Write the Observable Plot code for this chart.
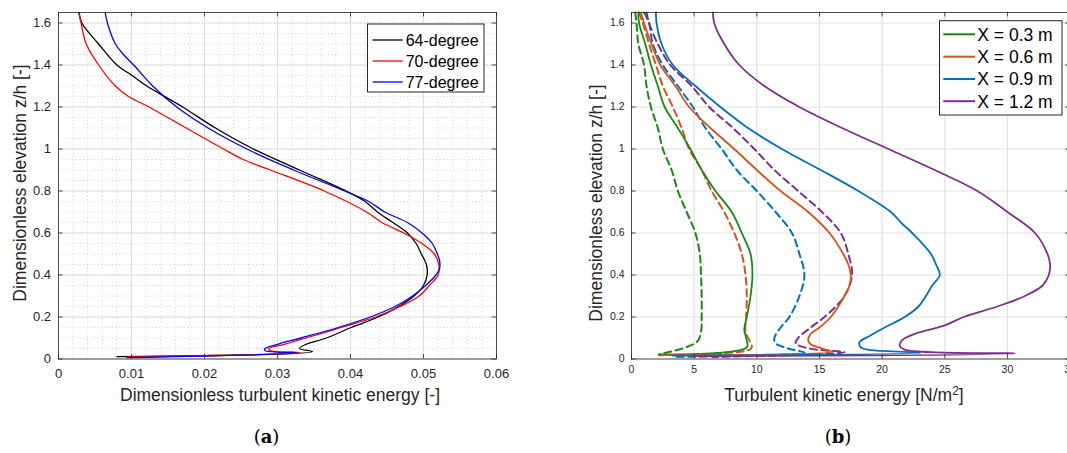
<!DOCTYPE html>
<html><head><meta charset="utf-8">
<script src="https://cdn.jsdelivr.net/npm/d3@7"></script>
<script src="https://cdn.jsdelivr.net/npm/@observablehq/plot@0.6"></script>
<style>
html,body{margin:0;padding:0;background:#fff;overflow:hidden;}
body{width:1067px;height:453px;position:relative;font-family:"Liberation Sans",Arial,sans-serif;}
.panel{position:absolute;top:0;}
#overlay{position:absolute;left:0;top:0;pointer-events:none;}
</style></head><body>
<div id="pa" class="panel" style="left:0;width:530px"></div>
<div id="pb" class="panel" style="left:531px;width:545px"></div>
<svg id="overlay" width="1067" height="453"></svg>
<script>
// ---------- DATA ----------
const zTicks = [0, 0.2, 0.4, 0.6, 0.8, 1, 1.2, 1.4, 1.6];
const xTicksA = [0, 0.01, 0.02, 0.03, 0.04, 0.05, 0.06];
const xTicksB = [0, 5, 10, 15, 20, 25, 30, 35];

const namesA = ["64-degree", "70-degree", "77-degree"];
const colorsA = ["#000000", "#ff0000", "#0000ff"];
// [dimensionless TKE, z/h]
const deg64 = [[0.0028,1.65],[0.0032,1.6],[0.0055,1.5],[0.0080,1.4],[0.0101,1.35],[0.0121,1.3],[0.0170,1.2],[0.0215,1.1],[0.0267,1.0],[0.0330,0.9],[0.0394,0.8],[0.0420,0.75],[0.0437,0.7],[0.0458,0.65],[0.0478,0.6],[0.0490,0.55],[0.0497,0.5],[0.0504,0.45],[0.0505,0.4],[0.0500,0.35],[0.0487,0.3],[0.0461,0.24],[0.0438,0.2],[0.0401,0.15],[0.0367,0.1],[0.0339,0.07],[0.0330,0.05],[0.0348,0.035],[0.0080,0.011]];
const deg70 = [[0.0028,1.65],[0.0031,1.6],[0.0038,1.5],[0.0055,1.4],[0.0078,1.3],[0.0096,1.25],[0.0124,1.2],[0.0175,1.1],[0.0226,1.0],[0.0253,0.95],[0.0290,0.9],[0.0364,0.8],[0.0422,0.7],[0.0443,0.65],[0.0473,0.6],[0.0498,0.55],[0.0515,0.5],[0.0521,0.45],[0.0520,0.4],[0.0508,0.35],[0.0494,0.3],[0.0468,0.25],[0.0434,0.2],[0.0387,0.15],[0.0339,0.1],[0.0309,0.07],[0.0288,0.05],[0.0290,0.04],[0.0330,0.03],[0.0094,0.01]];
const deg77 = [[0.0064,1.65],[0.0067,1.6],[0.0078,1.5],[0.0089,1.45],[0.0103,1.4],[0.0129,1.3],[0.0162,1.2],[0.0205,1.1],[0.0258,1.0],[0.0322,0.9],[0.0392,0.8],[0.0425,0.75],[0.0447,0.7],[0.0478,0.65],[0.0498,0.6],[0.0512,0.55],[0.0519,0.5],[0.0522,0.47],[0.0522,0.43],[0.0517,0.4],[0.0503,0.35],[0.0485,0.3],[0.0461,0.25],[0.0427,0.2],[0.0383,0.15],[0.0332,0.1],[0.0300,0.07],[0.0283,0.05],[0.0283,0.04],[0.0325,0.03],[0.0094,0.007]];

const namesB = ["X = 0.3 m", "X = 0.6 m", "X = 0.9 m", "X = 1.2 m"];
const colorsB = ["#148c14", "#d95319", "#0072bd", "#7e2f8e"];
// [TKE N/m2, z/h] solid and dashed profiles
const x03Solid = [[0.55,1.65],[0.6,1.6],[1.1,1.5],[1.55,1.4],[2.1,1.3],[2.65,1.2],[3.7,1.1],[4.7,1.0],[5.6,0.9],[6.7,0.8],[8.0,0.7],[8.8,0.6],[9.5,0.5],[9.65,0.4],[9.5,0.3],[9.2,0.2],[9.0,0.14],[9.15,0.1],[9.2,0.055],[2.2,0.022]];
const x03Dash = [[0.3,1.65],[0.4,1.6],[0.55,1.5],[1.0,1.4],[1.2,1.3],[1.55,1.2],[2.1,1.1],[2.5,1.0],[3.2,0.9],[3.7,0.8],[4.4,0.7],[5.1,0.6],[5.45,0.5],[5.55,0.4],[5.6,0.3],[5.6,0.2],[5.55,0.13],[5.2,0.08],[2.2,0.022]];
const x06Solid = [[0.75,1.65],[1.0,1.6],[1.6,1.5],[2.3,1.4],[3.5,1.3],[4.6,1.2],[6.3,1.1],[8.2,1.0],[10.0,0.9],[11.9,0.8],[14.1,0.7],[15.8,0.6],[16.9,0.5],[17.3,0.45],[17.5,0.4],[17.4,0.35],[17.0,0.3],[16.5,0.25],[15.9,0.2],[15.0,0.15],[14.3,0.12],[14.1,0.09],[14.3,0.07],[15.2,0.05],[16.0,0.035],[2.5,0.018]];
const x06Dash = [[0.6,1.65],[0.9,1.6],[1.4,1.5],[1.95,1.4],[2.5,1.3],[3.3,1.2],[4.0,1.1],[4.6,1.0],[5.6,0.9],[6.4,0.8],[7.4,0.7],[8.2,0.6],[8.8,0.5],[9.1,0.4],[9.2,0.3],[9.15,0.2],[9.1,0.13],[9.6,0.056],[9.2,0.04],[2.2,0.018]];
const x09Solid = [[1.95,1.65],[2.0,1.6],[2.4,1.5],[3.3,1.4],[5.1,1.3],[7.1,1.2],[9.3,1.1],[12.0,1.0],[15.1,0.9],[18.1,0.8],[20.7,0.7],[21.5,0.65],[22.4,0.6],[23.9,0.5],[24.3,0.45],[24.6,0.4],[24.0,0.35],[23.5,0.3],[22.9,0.25],[21.8,0.2],[20.2,0.15],[19.0,0.11],[18.2,0.08],[18.3,0.055],[19.2,0.042],[23.1,0.03],[3.3,0.016]];
const x09Dash = [[1.0,1.65],[1.4,1.6],[1.7,1.5],[2.5,1.4],[3.7,1.3],[4.9,1.2],[5.9,1.1],[7.2,1.0],[8.4,0.9],[10.0,0.8],[11.5,0.7],[12.8,0.6],[13.4,0.5],[13.8,0.4],[13.4,0.3],[12.6,0.2],[11.9,0.15],[11.4,0.1],[11.5,0.075],[12.5,0.05],[13.8,0.03],[3.3,0.01]];
const x12Solid = [[6.5,1.65],[6.6,1.6],[7.4,1.5],[8.6,1.4],[10.6,1.3],[13.4,1.2],[16.8,1.1],[20.5,1.0],[24.2,0.9],[27.6,0.8],[30.0,0.7],[32.2,0.6],[33.2,0.5],[33.4,0.45],[33.3,0.4],[32.8,0.35],[31.4,0.3],[29.2,0.25],[26.5,0.2],[25.0,0.16],[22.6,0.12],[21.6,0.09],[21.4,0.065],[21.8,0.045],[30.6,0.026],[5.0,0.014]];
const x12Dash = [[1.2,1.65],[1.4,1.6],[2.1,1.5],[3.1,1.4],[4.8,1.3],[6.2,1.2],[8.1,1.1],[9.8,1.0],[11.4,0.9],[13.3,0.8],[15.2,0.7],[16.7,0.6],[17.3,0.5],[17.6,0.4],[17.0,0.3],[16.3,0.25],[15.4,0.2],[14.3,0.15],[13.3,0.1],[13.1,0.075],[14.2,0.05],[17.0,0.032],[6.5,0.01]];

const seriesA = [deg64, deg70, deg77];
const seriesBSolid = [x03Solid, x06Solid, x09Solid, x12Solid];
const seriesBDash = [x03Dash, x06Dash, x09Dash, x12Dash];

// ---------- LAYOUT ----------
const H = 410, MT = 12, MB = 51.5;
const plotH = H - MT - MB;
const AX = "#262626";
const font = '"Liberation Sans", Arial, sans-serif';
const CURVE = "catmull-rom";

function inwardTicks(xt, yt, w) {
  const L = 4.5;
  return [
    Plot.tickX(xt, {x: d => d, insetTop: plotH - L, stroke: AX, strokeWidth: 0.8}),
    Plot.tickX(xt, {x: d => d, insetBottom: plotH - L, stroke: AX, strokeWidth: 0.8}),
    Plot.tickY(yt, {y: d => d, insetRight: w - L, stroke: AX, strokeWidth: 0.8}),
    Plot.tickY(yt, {y: d => d, insetLeft: w - L, stroke: AX, strokeWidth: 0.8})
  ];
}

// Panel (a)
const WA = 530, MLA = 58, MRA = 34;
const minorXA = d3.ticks(0, 0.06, 30);
const minorY = d3.ticks(0, 1.65, 33);
const plotA = Plot.plot({
  width: WA, height: H, marginLeft: MLA, marginRight: MRA, marginTop: MT, marginBottom: MB,
  style: `max-width:none;background:transparent;overflow:visible;font-family:${font};`,
  x: {domain: [0, 0.06]},
  y: {domain: [0, 1.65]},
  marks: [
    Plot.ruleX(minorXA, {x: d => d, stroke: "#c4c4c4", strokeWidth: 0.8, strokeDasharray: "1,2.6"}),
    Plot.ruleY(minorY, {y: d => d, stroke: "#c4c4c4", strokeWidth: 0.8, strokeDasharray: "1,2.6"}),
    Plot.gridX(xTicksA, {stroke: "#dedede", strokeOpacity: 1, strokeWidth: 1}),
    Plot.gridY(zTicks, {stroke: "#dedede", strokeOpacity: 1, strokeWidth: 1}),
    ...seriesA.map((s, i) => Plot.line(s, {x: d => d[0], y: d => d[1], stroke: colorsA[i], strokeWidth: 1.3, curve: CURVE})),
    Plot.frame({stroke: AX, strokeWidth: 0.8}),
    ...inwardTicks(xTicksA, zTicks, WA - MLA - MRA),
    Plot.axisX(xTicksA, {tickSize: 0, tickPadding: 10, fontSize: 13, fill: AX, label: null, tickFormat: d => String(d)}),
    Plot.axisY(zTicks, {tickSize: 0, tickPadding: 7.5, fontSize: 13, fill: AX, label: null, tickFormat: d => String(d)})
  ]
});
document.getElementById("pa").appendChild(plotA);

// Panel (b)
const WB = 545, MLB = 100, MRB = 6.4;
const plotB = Plot.plot({
  width: WB, height: H, marginLeft: MLB, marginRight: MRB, marginTop: MT, marginBottom: MB,
  style: `max-width:none;background:transparent;overflow:visible;font-family:${font};`,
  x: {domain: [0, 35]},
  y: {domain: [0, 1.65]},
  marks: [
    Plot.gridX(xTicksB, {stroke: "#e2e2e2", strokeOpacity: 1, strokeWidth: 1.2}),
    Plot.gridY(zTicks, {stroke: "#e2e2e2", strokeOpacity: 1, strokeWidth: 1.2}),
    ...seriesBDash.map((s, i) => Plot.line(s, {x: d => d[0], y: d => d[1], stroke: colorsB[i], strokeWidth: 2, strokeDasharray: "7,4.5", curve: CURVE})),
    ...seriesBSolid.map((s, i) => Plot.line(s, {x: d => d[0], y: d => d[1], stroke: colorsB[i], strokeWidth: 1.8, curve: CURVE})),
    Plot.frame({stroke: AX, strokeWidth: 0.8}),
    ...inwardTicks(xTicksB, zTicks, WB - MLB - MRB),
    Plot.axisX(xTicksB, {tickSize: 0, tickPadding: 7, fontSize: 10.5, fill: AX, label: null, tickFormat: d => String(d)}),
    Plot.axisY(zTicks, {tickSize: 0, tickPadding: 7, fontSize: 10.5, fill: AX, label: null, tickFormat: d => String(d)})
  ]
});
document.getElementById("pb").appendChild(plotB);

// Axis titles
function addTitle(svg, x, y, rot, parts) {
  const t = d3.select(svg).append("text")
    .attr("transform", `translate(${x},${y}) rotate(${rot})`)
    .attr("text-anchor", "middle").attr("fill", AX)
    .style("font-family", font).style("font-size", "17.5px");
  parts.forEach(p => {
    const ts = t.append("tspan").text(p.t);
    if (p.sup) ts.attr("dy", -6).style("font-size", "12px");
    if (p.after) ts.attr("dy", 6);
  });
}
addTitle(plotA, 280, 401, 0, [{t: "Dimensionless turbulent kinetic energy [-]"}]);
addTitle(plotA, 25.5, 183, -90, [{t: "Dimensionless elevation z/h [-]"}]);
addTitle(plotB, 844 - 531, 401, 0, [{t: "Turbulent kinetic energy [N/m"}, {t: "2", sup: true}, {t: "]", after: true}]);
addTitle(plotB, 601.5 - 531, 203, -90, [{t: "Dimensionless elevation z/h [-]"}]);

// Legends and captions
const ov = d3.select("#overlay");
function legend(box, names, colors, sw, x0, x1, tx, rows, fs) {
  ov.append("rect").attr("x", box[0]).attr("y", box[1]).attr("width", box[2]).attr("height", box[3])
    .attr("fill", "#fff").attr("stroke", AX).attr("stroke-width", 1);
  names.forEach((n, i) => {
    ov.append("line").attr("x1", x0).attr("x2", x1).attr("y1", rows[i]).attr("y2", rows[i])
      .attr("stroke", colors[i]).attr("stroke-width", sw);
    ov.append("text").attr("x", tx).attr("y", rows[i]).attr("dy", "0.36em")
      .style("font-family", font).style("font-size", fs + "px").attr("fill", "#000").text(n);
  });
}
legend([367.5, 24, 116.5, 68], namesA, colorsA, 1.3, 372.7, 402.7, 405.7, [40, 61, 82], 16);
legend([939.5, 20.7, 122.5, 94.3], namesB, colorsB, 2, 943.3, 975, 977.3, [34.3, 56.7, 79, 101.2], 17.5);

function caption(x, letter) {
  const t = ov.append("text").attr("x", x).attr("y", 443).attr("text-anchor", "middle")
    .style("font-family", '"DejaVu Serif", serif').style("font-size", "18px").attr("fill", "#000");
  t.append("tspan").text("(");
  t.append("tspan").style("font-weight", "bold").text(letter);
  t.append("tspan").text(")");
}
caption(266.5, "a");
caption(838, "b");
</script>
</body></html>
